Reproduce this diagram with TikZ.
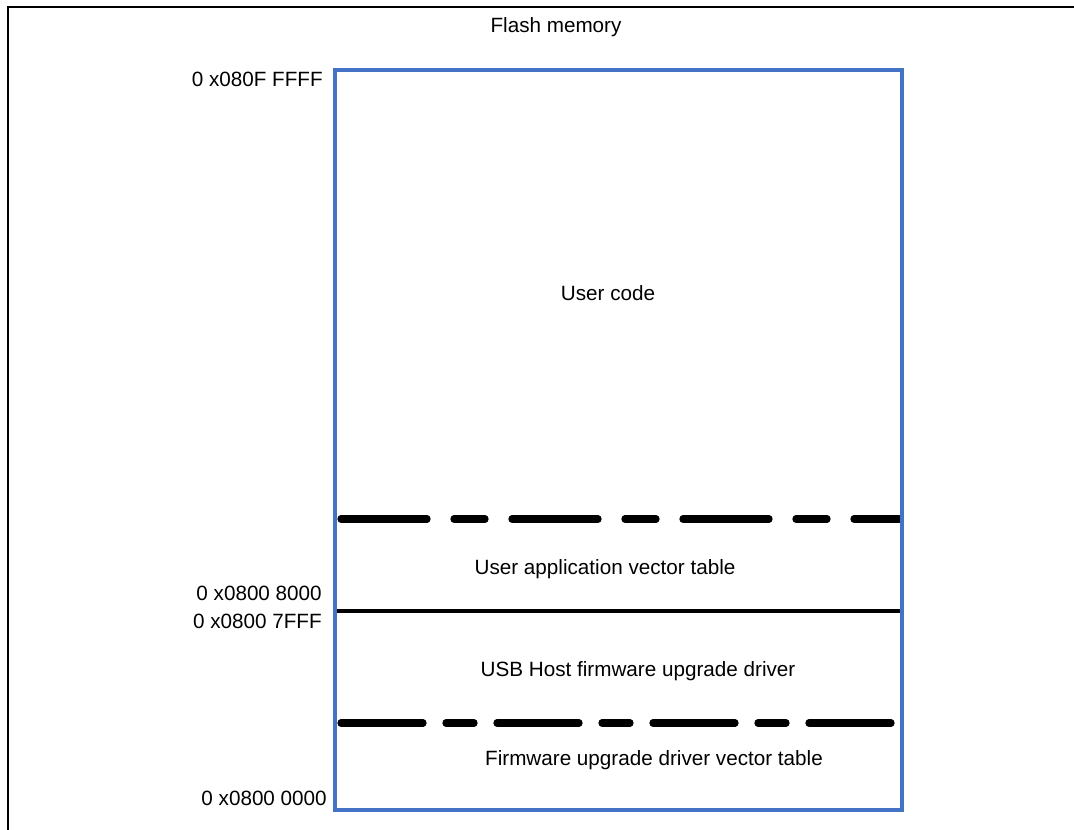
\documentclass[tikz,border=0pt]{standalone}
\usepackage{fontspec}
\setmainfont{Liberation Sans}
\definecolor{flashblue}{RGB}{68,114,196}
\tikzset{
  addr/.style={anchor=base east, inner sep=0pt},
  region/.style={anchor=base, inner sep=0pt},
  splitline/.style={line width=5.5pt, line cap=round},
  longdash/.style={splitline, dash pattern=on 64.5pt off 20.25pt on 23.25pt off 20.25pt},
  shortdash/.style={splitline, dash pattern=on 61.5pt off 17.25pt on 21pt off 17.25pt},
}

\begin{document}
\begin{tikzpicture}[x=0.75pt, y=-0.75pt, font=\fontsize{15.5}{18}\selectfont]
			\useasboundingbox (0,0) rectangle (1074,830);
			% outer frame (cut at right and bottom)
			\draw[line width=1.6pt] (8,830) |- (1074,7);

			\node[region] (title) at (556,33) {Flash memory};

			% corners of the flash block
			\coordinate (fbl) at (335,810);
			\coordinate (ftr) at (902,70);

			% boundaries between regions
			\coordinate (d1l) at (341,519); \coordinate (d1r) at (899,519);
			\coordinate (s1l) at (337,611); \coordinate (s1r) at (900,611);
			\coordinate (d2l) at (341,723); \coordinate (d2r) at (899,723);
			\draw[longdash] (d1l) -- (d1r);
			\draw[line width=3.3pt] (s1l) -- (s1r);
			\draw[shortdash] (d2l) -- (d2r);

			\draw[flashblue, line width=3pt] (fbl) rectangle (ftr);

			\node[region] (usercode) at (608,301) {User code};
			\node[region] (uservt) at (605,574) {User application vector table};
			\node[region] (driver) at (638,676) {USB Host firmware upgrade driver};
			\node[region] (drivervt) at (654,765) {Firmware upgrade driver vector table};

			\node[addr] (atop) at (323,87) {0 x080F FFFF};
			\node[addr] (auser) at (322,600) {0 x0800 8000};
			\node[addr] (adrvend) at (322,628) {0 x0800 7FFF};
			\node[addr] (abase) at (327,805) {0 x0800 0000};
		\end{tikzpicture}
\end{document}
